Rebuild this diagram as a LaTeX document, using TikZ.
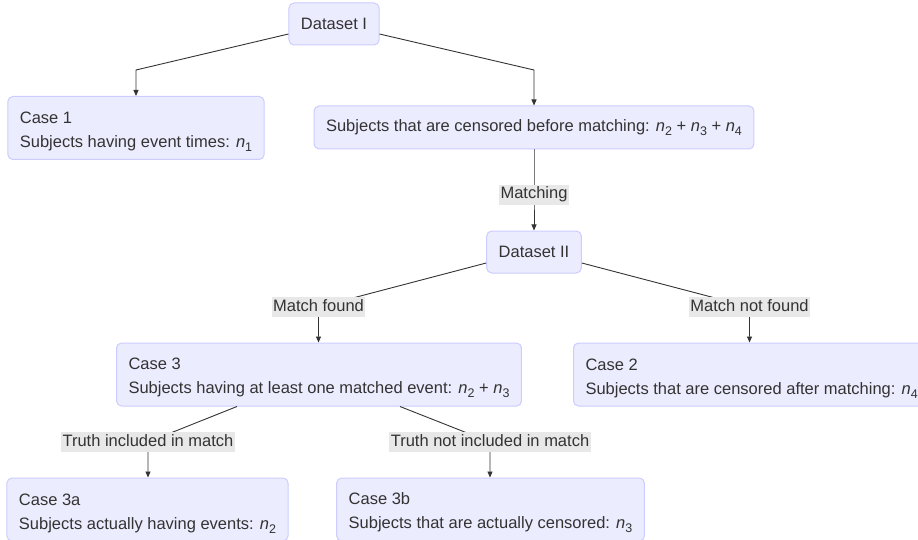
\documentclass[tikz,border=0pt]{standalone}
\usepackage{fontspec}
\setmainfont{Liberation Sans}
\usetikzlibrary{arrows.meta,calc}
\definecolor{boxfill}{HTML}{ECECFF}
\definecolor{boxdraw}{HTML}{CCCCFF}
\definecolor{ink}{HTML}{333333}
\definecolor{lblbg}{HTML}{E8E8E8}
\newcommand\nsub[1]{\textit{n}\raisebox{-4pt}{\fontsize{12.5}{12.5}\selectfont #1}}
\newcommand\topgap{\rule{0pt}{19pt}}
\begin{document}
\begin{tikzpicture}[x=1pt,y=-1pt,
 box/.style={draw=boxdraw, fill=boxfill, rounded corners=5pt, line width=1pt, align=left,
   inner xsep=12pt, inner ysep=7.5pt, text=ink, font=\fontsize{16.5}{24}\selectfont},
 lbl/.style={fill=lblbg, text=ink, inner xsep=1.5pt, inner ysep=2pt, text height=12pt, text depth=4pt,
   font=\fontsize{16.5}{19}\selectfont},
 edge/.style={draw=ink, line width=0.9pt},
 arr/.style={edge, -{Triangle[length=6pt,width=5pt]}}]
\useasboundingbox (0,0) rectangle (918,540);
\clip (0,0) rectangle (918,540);

% nodes
\node[box, minimum height=42] (d1) at (334,24) {Dataset I};
\node[box, minimum height=63] (c1) at (136,128) {\topgap Case 1\\Subjects having event times: \nsub{1}};
\node[box, minimum height=43] (cb) at (534,127.5) {Subjects that are censored before matching: \nsub{2} + \nsub{3} + \nsub{4}};
\node[box, minimum height=42] (d2) at (534,252) {Dataset II};
\node[box, minimum height=63] (c3) at (319,374.5) {\topgap Case 3\\Subjects having at least one matched event: \nsub{2} + \nsub{3}};
\node[box, minimum height=63, anchor=west] (c2) at (573,374.5) {\topgap Case 2\\Subjects that are censored after matching: \nsub{4}};
\node[box, minimum height=63] (c3a) at (147.5,509.5) {\topgap Case 3a\\Subjects actually having events: \nsub{2}};
\node[box, minimum height=63] (c3b) at (490.5,509.5) {\topgap Case 3b\\Subjects that are actually censored: \nsub{3}};

% bend / label points
\coordinate (k1) at (136,70);
\coordinate (k2) at (534,70);
\coordinate (pm) at (534,195);
\coordinate (pmf) at (318.5,307);
\coordinate (pmnf) at (749.5,307);
\coordinate (pti) at (148,442);
\coordinate (ptni) at (490,442);

% connectors
\draw[arr] ([yshift=-10pt]d1.west) -- (k1) -- (c1.north);
\draw[arr] ([yshift=-10pt]d1.east) -- (k2) -- (cb.north);
\draw[arr] (cb.south) -- (pm) -- (d2.north);
\draw[arr] ([yshift=-11pt]d2.west) -- (pmf) -- (pmf |- c3.north);
\draw[arr] ([yshift=-11pt]d2.east) -- (pmnf) -- (pmnf |- c2.north);
\draw[arr] ([xshift=-82pt]c3.south) -- (pti) -- (pti |- c3a.north);
\draw[arr] ([xshift=81pt]c3.south) -- (ptni) -- (ptni |- c3b.north);

% edge labels
\node[lbl] (lm) at (pm) {Matching};
\node[lbl] (lmf) at (pmf) {Match found};
\node[lbl] (lmnf) at (pmnf) {Match not found};
\node[lbl] (lti) at (pti) {Truth included in match};
\node[lbl] (ltni) at (ptni) {Truth not included in match};
\end{tikzpicture}
\end{document}
